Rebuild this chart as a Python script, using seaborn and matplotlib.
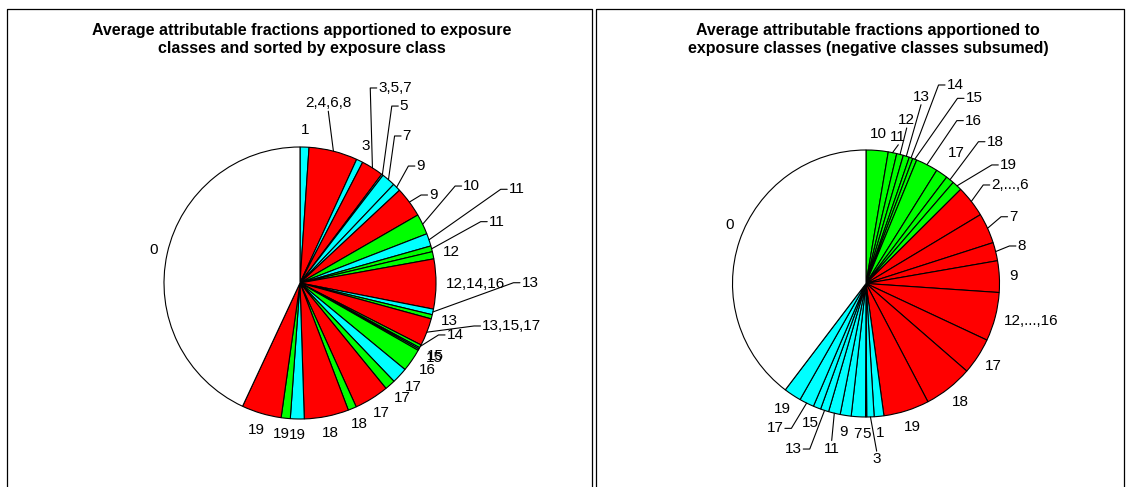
import numpy as np
import matplotlib
matplotlib.use("Agg")
import matplotlib.pyplot as plt
from matplotlib.lines import Line2D
import seaborn as sns

# Slices listed clockwise from 12 o'clock, values are % of the total
left_labels = ["1", "2,4,6,8", "3", "3,5,7", "5", "7", "9", "9", "10", "11", "11", "12",
               "12,14,16", "13", "13", "13,15,17", "14", "15", "15", "16", "17", "17", "17",
               "18", "18", "19", "19", "19", "0"]
left_kinds = ["c", "r", "c", "r", "c", "c", "c", "r", "g", "c", "g", "g",
              "r", "c", "g", "r", "g", "c", "g", "g", "c", "g", "r",
              "g", "r", "c", "g", "r", "w"]
left_values = [1.06, 5.78, 0.78, 2.64, 0.19, 1.64, 0.97, 3.61, 2.44, 1.50, 0.69, 0.86,
               5.92, 0.67, 0.50, 3.28, 0.36, 0.17, 0.19, 2.72, 1.89, 1.25, 4.11,
               1.00, 5.28, 1.64, 1.08, 4.72, 43.06]

right_labels = ["10", "11", "12", "13", "14", "15", "16", "17", "18", "19",
                "2,...,6", "7", "8", "9", "12,...,16", "17", "18", "19",
                "1", "3", "5", "7", "9", "11", "13", "15", "17", "19", "0"]
right_kinds = ["g"] * 10 + ["r"] * 8 + ["c"] * 10 + ["w"]
right_values = [2.67, 1.03, 0.81, 0.75, 0.44, 0.50, 2.69, 1.44, 1.00, 1.22,
                3.83, 3.67, 2.22, 3.81, 5.89, 4.42, 5.94, 5.53,
                1.17, 0.89, 0.14, 1.72, 1.33, 1.42, 1.00, 0.92, 1.78, 2.11,
                39.67]

left_title = "Average attributable fractions apportioned to exposure\nclasses and sorted by exposure class"
right_title = "Average attributable fractions apportioned to\nexposure classes (negative classes subsumed)"

palette = {"r": "#ff0000", "c": "#00ffff", "g": "#00ff00", "w": "#ffffff"}

# labels that were dragged away from their slice: index -> (x, y, leader) in pie radii
left_moved = {1: (0.208, 1.322, "v"), 3: (0.699, 1.434, "h"), 4: (0.765, 1.301, "h"),
              5: (0.785, 1.081, "h"), 6: (0.887, 0.860, "h"), 7: (0.980, 0.647, "h"),
              8: (1.262, 0.713, "h"), 9: (1.593, 0.689, "h"), 10: (1.446, 0.451, "h"),
              13: (1.691, 0.002, "h"), 15: (1.556, -0.316, "h"), 16: (1.140, -0.382, "h"),
              25: (-0.018, -1.118, None), 26: (-0.140, -1.112, None)}
right_moved = {1: (0.242, 1.099, "v"), 2: (0.305, 1.225, "v"), 3: (0.412, 1.399, "v"),
               4: (0.667, 1.487, "h"), 5: (0.809, 1.387, "h"), 6: (0.804, 1.220, "h"),
               7: (0.679, 0.974, None), 8: (0.966, 1.062, "h"), 9: (1.066, 0.888, "h"),
               10: (1.079, 0.738, "h"), 11: (1.103, 0.500, "h"), 12: (1.166, 0.281, "h"),
               19: (0.080, -1.316, "v"), 23: (-0.257, -1.236, "v"),
               24: (-0.545, -1.240, "h"), 26: (-0.682, -1.085, "h"),
               28: (-1.02, 0.44, None)}

sns.set_theme(style="white")
plt.rcParams["font.family"] = ["Liberation Sans", "DejaVu Sans"]

W, H = 1131, 487
fig = plt.figure(figsize=(W / 100, H / 100), dpi=100)
fig.patch.set_facecolor("white")


def fx(px):
    return px / W


def fy(py):
    return 1 - py / H


# panel frames (open at the bottom, cut off by the image)
for x0, x1 in [(7, 592), (596, 1124)]:
    fig.add_artist(Line2D([fx(x0), fx(x0), fx(x1), fx(x1)], [-0.01, fy(9), fy(9), -0.01],
                          transform=fig.transFigure, color="black", lw=0.9))


def add_pie(cx, cy, radius, values, kinds, labels, moved, title):
    half = 200
    ax = fig.add_axes([fx(cx - half), fy(cy + half), 2 * half / W, 2 * half / H])
    wedges, _ = ax.pie(values, colors=[palette[k] for k in kinds], startangle=90,
                       counterclock=False,
                       wedgeprops=dict(edgecolor="black", linewidth=0.8))
    lim = half / radius
    ax.set_xlim(-lim, lim)
    ax.set_ylim(-lim, lim)
    ax.set_aspect("equal")
    ax.axis("off")

    items = []
    for i, (w, lab) in enumerate(zip(wedges, labels)):
        ang = np.deg2rad((w.theta1 + w.theta2) / 2)
        dx, dy = np.cos(ang), np.sin(ang)
        if i in moved:
            x, y, style = moved[i]
        else:
            x, y, style = (1 + 10 / radius) * dx, (1 + 10 / radius) * dy, None
        t = ax.text(x, y, lab, ha="center", va="center", fontsize=11, color="black")
        items.append((t, dx, dy, i in moved, style))

    fig.text(fx(cx + 2), fy(39.5), title, ha="center", va="center", fontsize=11.5,
             fontweight="bold", linespacing=1.17, color="black")
    return ax, radius, items


pies = [add_pie(300, 283, 136, left_values, left_kinds, left_labels, left_moved, left_title),
        add_pie(866, 283.5, 133.5, right_values, right_kinds, right_labels, right_moved, right_title)]

fig.canvas.draw()
for ax, radius, items in pies:
    for t, dx, dy, was_moved, style in items:
        bb = t.get_window_extent()
        w, h = bb.width / radius, bb.height / radius
        x, y = t.get_position()
        if not was_moved:
            t.set_position((x + w / 2 * dx, y + h / 2 * dy))
            continue
        if style is None:
            continue
        if style == "h":
            if x > dx:
                edge = x - w / 2
                xs = [dx, edge - 8 / radius, edge - 1.5 / radius]
            else:
                edge = x + w / 2
                xs = [dx, edge + 8 / radius, edge + 1.5 / radius]
            ys = [dy, y, y]
        else:
            if y > 0:
                end = y - h / 2 - 1 / radius
            else:
                end = y + h / 2 + 1 / radius
            xs, ys = [dx, x], [dy, end]
        ax.plot(xs, ys, color="black", lw=0.8, clip_on=False)

fig.savefig("out.png", dpi=100, facecolor="white")
